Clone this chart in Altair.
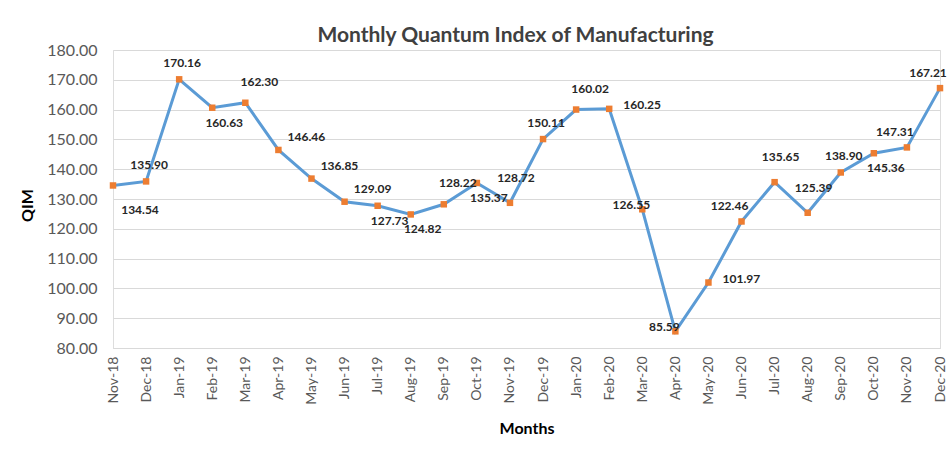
import altair as alt
import pandas as pd

months = ["Nov-18", "Dec-18", "Jan-19", "Feb-19", "Mar-19", "Apr-19", "May-19",
          "Jun-19", "Jul-19", "Aug-19", "Sep-19", "Oct-19", "Nov-19", "Dec-19",
          "Jan-20", "Feb-20", "Mar-20", "Apr-20", "May-20", "Jun-20", "Jul-20",
          "Aug-20", "Sep-20", "Oct-20", "Nov-20", "Dec-20"]
qim = [134.54, 135.90, 170.16, 160.63, 162.30, 146.46, 136.85,
       129.09, 127.73, 124.82, 128.22, 135.37, 128.72, 150.11,
       160.02, 160.25, 126.55, 85.59, 101.97, 122.46, 135.65,
       125.39, 138.90, 145.36, 147.31, 167.21]
y_ticks = [80, 90, 100, 110, 120, 130, 140, 150, 160, 170, 180]

df = pd.DataFrame({"Month": months, "QIM": qim})

# label placement styles (text offsets in px), like Excel's data-label positions
placements = {
    "above": (3, -16),
    "above_right": (14, -21),
    "above_far": (6, -25),
    "right_above": (28, -13),
    "right": (33, -4),
    "below_right": (12, 15),
    "below_far": (27, 25),
    "left": (-11, -4),
    "above_left": (-12, -15),
}
label_place = {
    "Nov-18": "below_far", "Dec-18": "above", "Jan-19": "above", "Feb-19": "below_right",
    "Mar-19": "above_right", "Apr-19": "right_above", "May-19": "right_above",
    "Jun-19": "right_above", "Jul-19": "below_right", "Aug-19": "below_right",
    "Sep-19": "above_right", "Oct-19": "below_right", "Nov-19": "above_far",
    "Dec-19": "above", "Jan-20": "above_right", "Feb-20": "right", "Mar-20": "left",
    "Apr-20": "left", "May-20": "right", "Jun-20": "above_left", "Jul-20": "above_far",
    "Aug-20": "above_far", "Sep-20": "above", "Oct-20": "below_right",
    "Nov-20": "above_left", "Dec-20": "above_left",
}

FONT = "Lato"

x = alt.X("Month:N", sort=months, scale=alt.Scale(paddingOuter=0, padding=0),
          axis=alt.Axis(title="Months", labelAngle=-90, labelFontSize=14,
                        labelColor="#595959", labelFont=FONT, labelPadding=8,
                        titleFont=FONT, titleFontSize=16, titleFontWeight="bold",
                        titleColor="#000000", titlePadding=16, ticks=False,
                        domainColor="#d9d9d9", grid=False))
y = alt.Y("QIM:Q", scale=alt.Scale(domain=[80, 180], nice=False, zero=False),
          axis=alt.Axis(title="QIM", values=y_ticks, format=".2f", labelFontSize=16,
                        labelColor="#595959", labelFont=FONT, labelPadding=16,
                        ticks=False, domain=False, gridColor="#d9d9d9",
                        titleFont=FONT, titleFontSize=16, titleFontWeight="bold",
                        titleColor="#000000", titleX=-78, titleY=155))

base = alt.Chart(df)
line = base.mark_line(color="#5B9BD5", strokeWidth=3).encode(x=x, y=y)
pts = base.mark_point(shape="square", filled=True, color="#ED7D31", size=42,
                      opacity=1).encode(x=x, y=y)

layers = [line, pts]
for name, (dx, dy) in placements.items():
    sel = [m for m in months if label_place[m] == name]
    if not sel:
        continue
    layers.append(
        base.transform_filter(alt.FieldOneOfPredicate(field="Month", oneOf=sel))
        .mark_text(font=FONT, fontSize=12, fontWeight="bold", color="#262626",
                   dx=dx, dy=dy)
        .encode(x=x, y=y, text=alt.Text("QIM:Q", format=".2f"))
    )

chart = alt.layer(*layers).properties(
    width=827, height=298,
    title=alt.TitleParams("Monthly Quantum Index of Manufacturing", font=FONT,
                          fontSize=21, fontWeight="bold", color="#404040",
                          anchor="middle", dx=-11, offset=-4),
    autosize=alt.AutoSizeParams(type="none"),
    padding={"left": 113, "top": 50, "right": 10, "bottom": 102},
).configure_view(stroke=None).configure(background="white")

chart.save("out.html", embed_options={"renderer": "svg", "actions": False})
